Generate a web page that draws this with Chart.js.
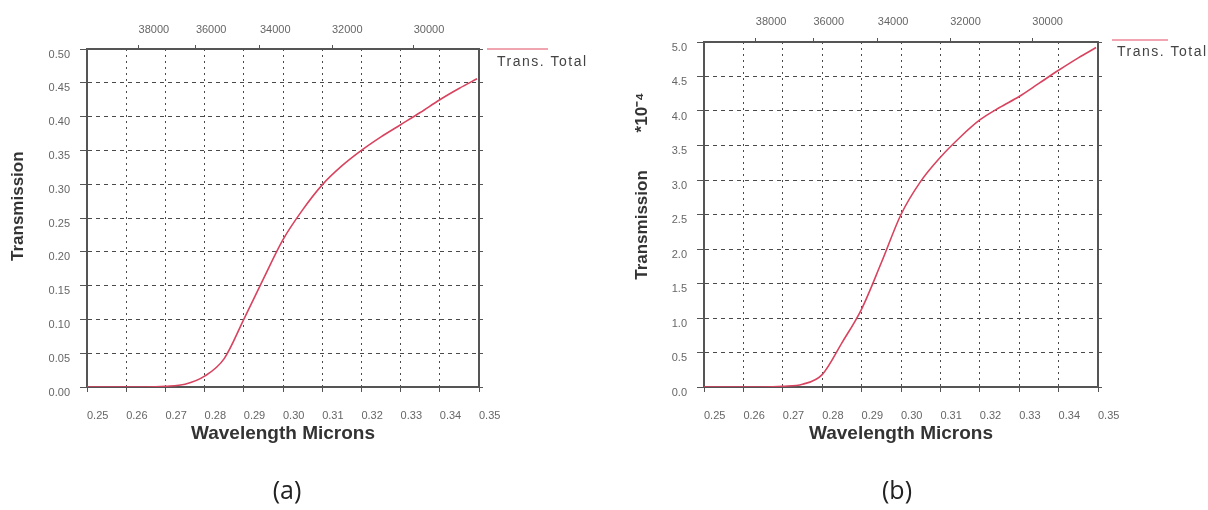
<!DOCTYPE html>
<html>
<head>
<meta charset="utf-8">
<script src="https://cdn.jsdelivr.net/npm/chart.js@4.4.1/dist/chart.umd.min.js"></script>
<style>
  body { margin: 0; width: 1208px; height: 510px; background: #fff; position: relative; overflow: hidden; }
  .box { position: absolute; top: 0; width: 604px; height: 510px; }
  .cap { position: absolute; top: 472px; width: 60px; text-align: center; font-family: 'Open Sans', sans-serif; font-size: 25px; color: #222; }
</style>
</head>
<body>
<div class="box" style="left:0"><canvas id="chartA"></canvas></div>
<div class="box" style="left:604px"><canvas id="chartB"></canvas></div>
<div class="cap" style="left:257px">(a)</div>
<div class="cap" style="left:867px">(b)</div>
<script>
// wavelength in microns (bottom axis)
const wavelengths = [0.25, 0.255, 0.26, 0.265, 0.27, 0.275, 0.28, 0.285, 0.29, 0.295, 0.30,
                     0.305, 0.31, 0.315, 0.32, 0.325, 0.33, 0.335, 0.34, 0.345, 0.3495];
// (a) total transmission
const transA = [0, 0, 0, 0, 0.001, 0.004, 0.016, 0.042, 0.10, 0.16, 0.218,
                0.262, 0.299, 0.327, 0.35, 0.37, 0.388, 0.406, 0.425, 0.442, 0.456];
// (b) total transmission, *10^-4
const transB = [0, 0, 0, 0, 0.01, 0.04, 0.18, 0.64, 1.13, 1.8, 2.5,
                2.98, 3.33, 3.62, 3.87, 4.05, 4.21, 4.4, 4.59, 4.77, 4.92];

const xTicks = [0.25, 0.26, 0.27, 0.28, 0.29, 0.30, 0.31, 0.32, 0.33, 0.34, 0.35];
const wavenumbers = [38000, 36000, 34000, 32000, 30000];
const yTicksA = [0, 0.05, 0.10, 0.15, 0.20, 0.25, 0.30, 0.35, 0.40, 0.45, 0.50];
const yTicksB = [0, 0.5, 1.0, 1.5, 2.0, 2.5, 3.0, 3.5, 4.0, 4.5, 5.0];

const seriesLabel = 'Trans. Total';
const lineColor = '#d8435f';
const axisColor = '#555';
const gridColor = '#4a4a4a';
const tickFont = { family: '"Liberation Sans", Arial, sans-serif', size: 11 };
const titleFont = { family: '"Liberation Sans", Arial, sans-serif', weight: 'bold' };

// small legend drawn at the top right of each plot
const legendPlugin = {
    id: 'transLegend',
    afterDraw(chart, args, opts) {
        const ctx = chart.ctx;
        ctx.save();
        ctx.strokeStyle = '#ec8797';
        ctx.lineWidth = 1.5;
        ctx.beginPath();
        ctx.moveTo(opts.x1, opts.y);
        ctx.lineTo(opts.x2, opts.y);
        ctx.stroke();
        ctx.font = '14px "Liberation Sans", Arial, sans-serif';
        ctx.letterSpacing = '1.5px';
        ctx.fillStyle = '#444';
        ctx.textBaseline = 'middle';
        ctx.fillText(chart.data.datasets[0].label, opts.tx, opts.ty);
        ctx.restore();
    }
};

function setTicks(list) {
    return scale => { scale.ticks = list.map(v => ({ value: v })); };
}

function fixSize(size) {
    return scale => {
        if (scale.isHorizontal()) scale.height = size;
        else scale.width = size;
    };
}

function makeChart(id, values, yTicks, digits, area, yTitle, legend) {
    const ctx = document.getElementById(id).getContext('2d');
    return new Chart(ctx, {
        type: 'line',
        data: {
            datasets: [{
                label: seriesLabel,
                data: wavelengths.map((w, i) => ({ x: w, y: values[i] })),
                borderColor: lineColor,
                borderWidth: 1.6,
                pointRadius: 0,
                cubicInterpolationMode: 'monotone',
                fill: false
            }]
        },
        options: {
            responsive: true,
            maintainAspectRatio: false,
            animation: false,
            layout: {
                padding: { left: 0, top: 0, right: 604 - area.right - 10, bottom: 510 - 445 }
            },
            plugins: {
                legend: { display: false },
                tooltip: { enabled: false },
                transLegend: legend
            },
            scales: {
                x: {
                    type: 'linear', position: 'bottom', min: 0.25, max: 0.35,
                    afterBuildTicks: setTicks(xTicks),
                    afterFit: fixSize(58),
                    ticks: { autoSkip: false, maxRotation: 0, align: 'start', padding: 17,
                             color: '#666', font: tickFont, callback: v => v.toFixed(2) },
                    grid: { color: gridColor, lineWidth: 1, tickLength: 5, tickColor: axisColor },
                    border: { display: true, color: axisColor, width: 2, dash: [2, 4] },
                    title: { display: true, text: 'Wavelength Microns', color: '#333',
                             font: Object.assign({ size: 19 }, titleFont), padding: { top: 0, bottom: 0 } }
                },
                xTop: {
                    type: 'linear', position: 'top', min: 0.25, max: 0.35,
                    afterBuildTicks: setTicks(wavenumbers.map(k => 10000 / k)),
                    afterFit: fixSize(area.top),
                    ticks: { autoSkip: false, maxRotation: 0, align: 'start', padding: area.topPad,
                             color: '#666', font: tickFont, callback: v => String(Math.round(10000 / v)) },
                    grid: { drawOnChartArea: false, tickLength: 4, color: axisColor },
                    border: { display: true, color: axisColor, width: 2 }
                },
                y: {
                    type: 'linear', position: 'left', min: 0, max: yTicks[yTicks.length - 1],
                    afterBuildTicks: setTicks(yTicks),
                    afterFit: fixSize(area.left),
                    ticks: { autoSkip: false, align: 'start', padding: 10, color: '#666',
                             font: tickFont, callback: v => v.toFixed(digits) },
                    grid: { color: gridColor, lineWidth: 1, tickLength: 7, tickColor: axisColor },
                    border: { display: true, color: axisColor, width: 2, dash: [4, 4] },
                    title: { display: true, text: yTitle, color: '#333',
                             font: Object.assign({ size: 17 }, titleFont),
                             padding: { top: area.titlePad, bottom: 0 } }
                },
                yRight: {
                    type: 'linear', position: 'right', min: 0, max: yTicks[yTicks.length - 1],
                    afterBuildTicks: setTicks(yTicks),
                    afterFit: fixSize(10),
                    ticks: { display: false },
                    grid: { drawOnChartArea: false, tickLength: 4, color: axisColor },
                    border: { display: true, color: axisColor, width: 2 }
                }
            }
        },
        plugins: [legendPlugin]
    });
}

makeChart('chartA', transA, yTicksA, 2,
    { left: 87, right: 479, top: 49, topPad: 8, titlePad: 8 },
    ' '.repeat(5) + 'Transmission',
    { x1: 487, x2: 548, y: 49, tx: 497, ty: 62 });

makeChart('chartB', transB, yTicksB, 1,
    { left: 100, right: 494, top: 42, topPad: 9, titlePad: 28 },
    ' '.repeat(12) + 'Transmission' + ' '.repeat(8) + '*10\u207B\u2074',
    { x1: 508, x2: 564, y: 40, tx: 513, ty: 52 });
</script>
</body>
</html>
